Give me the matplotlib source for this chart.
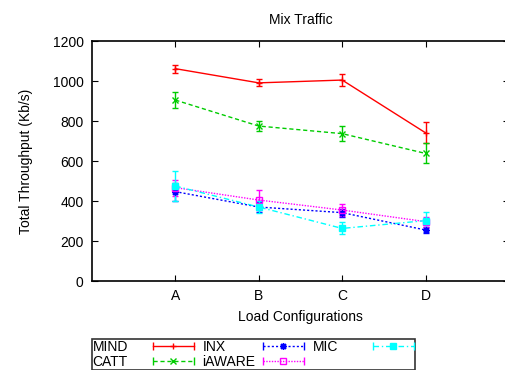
import matplotlib.pyplot as plt
from matplotlib.lines import Line2D
from matplotlib.legend_handler import HandlerLine2D

# データ
loads = ['A', 'B', 'C', 'D']
mind = [1062, 991, 1005, 741]
mind_err = [20, 18, 28, 53]
catt = [905, 775, 737, 638]
catt_err = [42, 26, 37, 50]
inx = [447, 370, 342, 255]
inx_err = [45, 25, 20, 15]
iaware = [467, 405, 355, 297]
iaware_err = [40, 50, 30, 25]
mic = [475, 370, 263, 302]
mic_err = [75, 30, 30, 45]

plt.rcParams['font.family'] = 'Liberation Sans'
fig = plt.figure(figsize=(5.05, 3.7), dpi=100)
ax = fig.add_axes([0.182, 0.2405, 0.826, 0.6485])

x = [1, 2, 3, 4]
series = [
    ('MIND', mind, mind_err, 'red', '-', '+', 'full'),
    ('CATT', catt, catt_err, '#00cc00', (0, (3, 2)), 'x', 'full'),
    ('INX', inx, inx_err, 'blue', (0, (1.5, 1.5)), (8, 2, 0), 'full'),
    ('iAWARE', iaware, iaware_err, 'magenta', (0, (1, 1)), 's', 'none'),
    ('MIC', mic, mic_err, 'cyan', (0, (4, 2, 1, 2)), 's', 'full'),
]
handles = []
hmap = {}
for name, vals, err, c, ls, mk, fs in series:
    ax.errorbar(x, vals, yerr=err, color=c, ls=ls, marker=mk, fillstyle=fs,
                markersize=5, lw=1, capsize=2.2, elinewidth=1)
    # 凡例用（両端にキャップ）
    main = Line2D([], [], color=c, ls=ls, marker=mk, fillstyle=fs, markersize=5, lw=1)
    caps = Line2D([], [], color=c, ls='none', marker='|', markersize=6, mew=1)
    hmap[caps] = HandlerLine2D(numpoints=2, marker_pad=0)
    handles.append((main, caps))

ax.set_xlim(0, 5)
ax.set_ylim(0, 1200)
ax.set_xticks(x)
ax.set_xticklabels(loads)
ax.set_yticks(range(0, 1201, 200))
ax.tick_params(direction='in', top=True, right=True, labelsize=10, length=4, pad=6)
for s in ax.spines.values():
    s.set_linewidth(1.2)
ax.set_xlabel('Load Configurations', fontsize=10, labelpad=5)
ax.set_ylabel('Total Throughput (Kb/s)', fontsize=10, labelpad=14)
ax.set_title('Mix Traffic', fontsize=10, pad=12)

leg = fig.legend(handles, [s[0] for s in series], handler_map=hmap,
                 loc='upper left', bbox_to_anchor=(0.182, 1 - 339 / 370),
                 ncol=3, markerfirst=False, fontsize=10, frameon=True, fancybox=False,
                 edgecolor='black', borderpad=0.05, labelspacing=0.08, handlelength=3.0,
                 handletextpad=0.5, columnspacing=0.6, borderaxespad=0)
leg.get_frame().set_linewidth(1.2)

# ラベルを左寄せにしてサンプル線の位置を揃える
fig.canvas.draw()
r = fig.canvas.get_renderer()
for col in leg._legend_handle_box.get_children():
    for item in col.get_children():
        ta = item.get_children()[0]
        w = ta._text.get_window_extent(r).width
        item.sep = (60 - w) * 72 / fig.dpi

plt.savefig('out.png', dpi=100)
